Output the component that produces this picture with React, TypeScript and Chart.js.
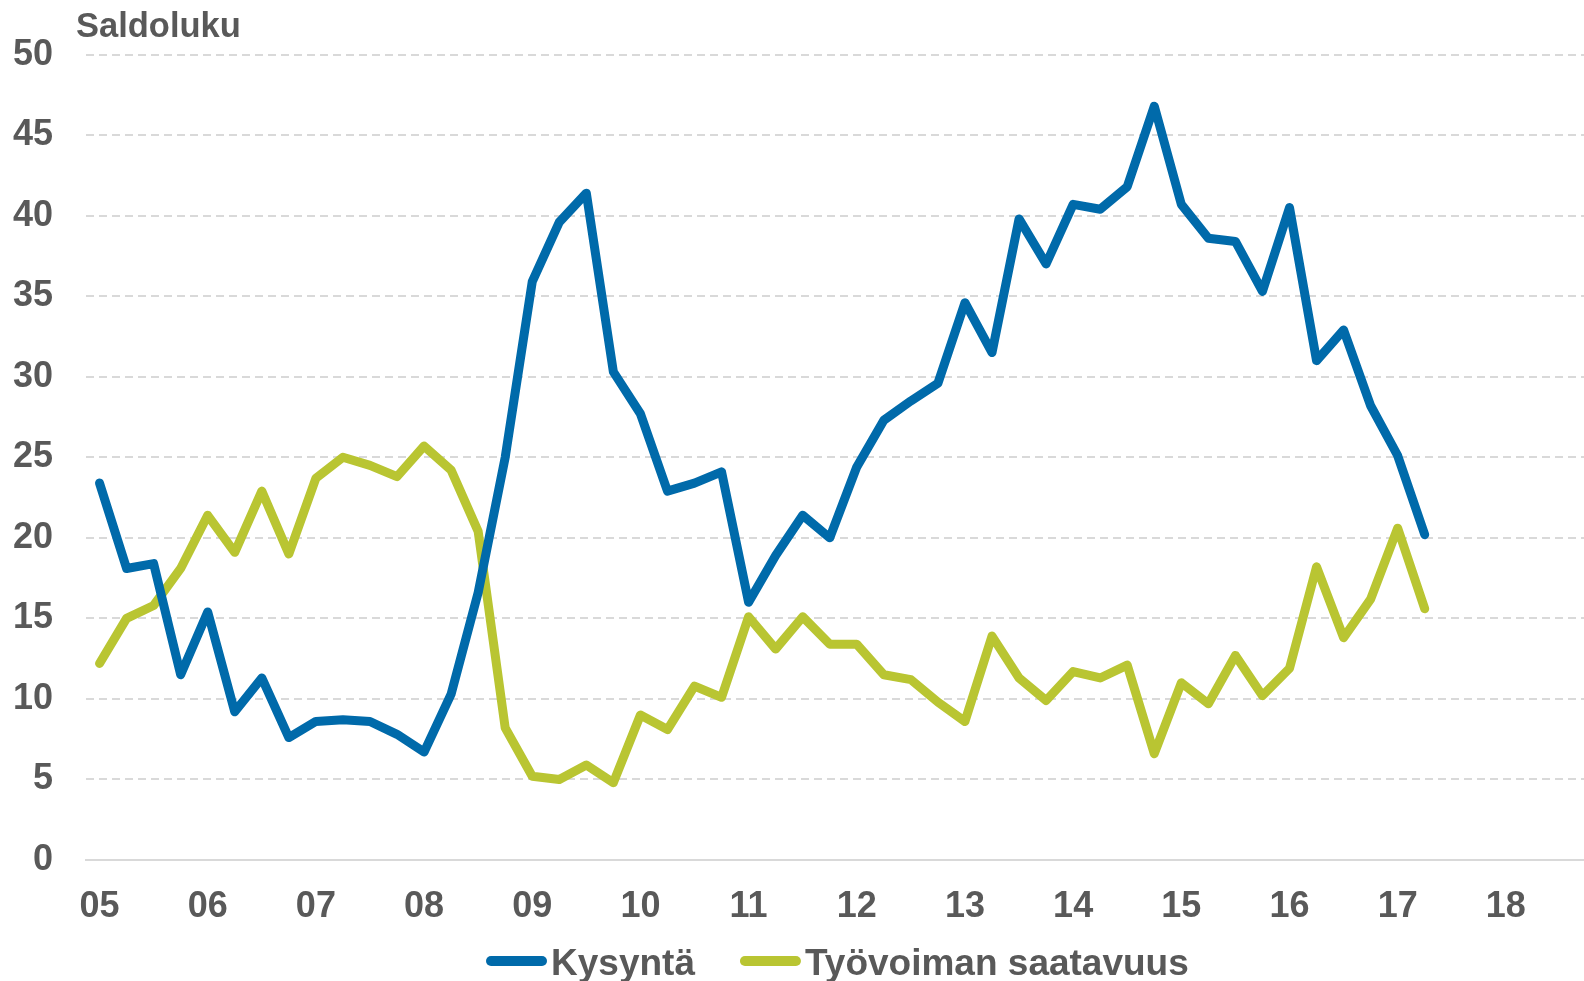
import React, { useEffect, useRef } from 'react';
import { Chart, registerables } from 'chart.js';

Chart.register(...registerables);

// ---- Data ----
const YEARS = ['05', '06', '07', '08', '09', '10', '11', '12', '13', '14', '15', '16', '17', '18'];
const QUARTERS = ['Q1', 'Q2', 'Q3', 'Q4'];
const CATEGORIES = YEARS.flatMap((y) => QUARTERS.map((q) => `${y}${q}`));

const KYSYNTA = [
  23.4, 18.1, 18.4, 11.5,
  15.4, 9.2, 11.3, 7.6,
  8.6, 8.7, 8.6, 7.8,
  6.7, 10.3, 16.6, 25.0,
  35.9, 39.6, 41.4, 30.3,
  27.7, 22.9, 23.4, 24.1,
  16.0, 18.9, 21.4, 20.0,
  24.4, 27.3, 28.5, 29.6,
  34.6, 31.5, 39.8, 37.0,
  40.7, 40.4, 41.8, 46.8,
  40.7, 38.6, 38.4, 35.3,
  40.5, 31.0, 32.9, 28.2,
  25.1, 20.2,
];

const TYOVOIMA = [
  12.2, 15.0, 15.8, 18.1,
  21.4, 19.1, 22.9, 19.0,
  23.7, 25.0, 24.5, 23.8,
  25.7, 24.2, 20.4, 8.2,
  5.2, 5.0, 5.9, 4.8,
  9.0, 8.1, 10.8, 10.1,
  15.1, 13.1, 15.1, 13.4,
  13.4, 11.5, 11.2, 9.8,
  8.6, 13.9, 11.3, 9.9,
  11.7, 11.3, 12.1, 6.6,
  11.0, 9.7, 12.7, 10.2,
  11.9, 18.2, 13.8, 16.2,
  20.6, 15.6,
];

const SERIES_NAMES = ['Kysyntä', 'Työvoiman saatavuus'];
const Y_TITLE = 'Saldoluku';
const Y_MIN = 0;
const Y_MAX = 50;
const Y_STEP = 5;

// ---- Style ----
const COLORS = ['#006AAA', '#B9C532'];
const TEXT_COLOR = '#595959';
const GRID_COLOR = '#d9d9d9';
const FONT = "'Liberation Sans', Arial, sans-serif";

const overlayPlugin = {
  id: 'overlay',
  afterDraw(chart: any) {
    const ctx = chart.ctx;
    const area = chart.chartArea;
    ctx.save();
    ctx.fillStyle = TEXT_COLOR;
    ctx.textAlign = 'left';
    ctx.textBaseline = 'alphabetic';
    ctx.font = `bold 34.5px ${FONT}`;
    ctx.fillText(Y_TITLE, area.left - 10, 37);

    // legend
    ctx.font = `bold 37px ${FONT}`;
    const lineLen = 51;
    const textGap = 9;
    const itemGap = 50;
    const lineY = 961;
    const textY = 975;
    let x = area.left + 405;
    SERIES_NAMES.forEach((name, i) => {
      ctx.beginPath();
      ctx.strokeStyle = COLORS[i];
      ctx.lineWidth = 10;
      ctx.lineCap = 'round';
      ctx.moveTo(x, lineY);
      ctx.lineTo(x + lineLen, lineY);
      ctx.stroke();
      x += lineLen + textGap;
      ctx.fillStyle = TEXT_COLOR;
      ctx.fillText(name, x, textY);
      x += ctx.measureText(name).width + itemGap;
    });
    ctx.restore();
  },
};

export default function App() {
  const ref = useRef<HTMLCanvasElement | null>(null);

  useEffect(() => {
    if (!ref.current) return;
    const chart = new Chart(ref.current, {
      type: 'line',
      data: {
        labels: CATEGORIES,
        datasets: [
          {
            label: SERIES_NAMES[0],
            data: KYSYNTA,
            borderColor: COLORS[0],
            backgroundColor: COLORS[0],
            borderWidth: 9,
            pointRadius: 0,
            pointHoverRadius: 0,
            borderCapStyle: 'round',
            borderJoinStyle: 'round',
            tension: 0,
            fill: false,
          },
          {
            label: SERIES_NAMES[1],
            data: TYOVOIMA,
            borderColor: COLORS[1],
            backgroundColor: COLORS[1],
            borderWidth: 9,
            pointRadius: 0,
            pointHoverRadius: 0,
            borderCapStyle: 'round',
            borderJoinStyle: 'round',
            tension: 0,
            fill: false,
          },
        ],
      },
      options: {
        responsive: false,
        devicePixelRatio: 1,
        animation: false,
        layout: { padding: { top: 53, left: 0, right: 0, bottom: 0 } },
        plugins: {
          legend: { display: false },
          tooltip: { enabled: false },
          title: { display: false },
        },
        scales: {
          x: {
            type: 'category',
            offset: true,
            grid: { display: false, drawTicks: false },
            border: { display: true, color: GRID_COLOR, width: 2 },
            ticks: {
              autoSkip: false,
              maxRotation: 0,
              minRotation: 0,
              padding: 25,
              color: TEXT_COLOR,
              font: { family: FONT, size: 36, weight: 'bold' },
              callback: (_v: any, index: number) => {
                const lbl = CATEGORIES[index];
                return lbl.endsWith('Q1') ? lbl.slice(0, 2) : '';
              },
            },
            afterFit: (s: any) => {
              s.height = 121;
            },
          },
          y: {
            min: Y_MIN,
            max: Y_MAX,
            ticks: {
              stepSize: Y_STEP,
              padding: 33,
              color: TEXT_COLOR,
              font: { family: FONT, size: 36, weight: 'bold' },
            },
            grid: {
              color: GRID_COLOR,
              lineWidth: 2,
              drawTicks: false,
            },
            border: { display: false, dash: [8, 5] },
            afterFit: (s: any) => {
              s.width = 86;
            },
          },
        },
      },
      plugins: [overlayPlugin],
    } as any);
    return () => chart.destroy();
  }, []);

  return (
    <div
      style={{
        position: 'absolute',
        left: 0,
        top: 0,
        width: 1584,
        height: 981,
        overflow: 'hidden',
        background: '#ffffff',
      }}
    >
      <canvas ref={ref} width={1612} height={981} style={{ display: 'block', width: 1612, height: 981 }} />
    </div>
  );
}
